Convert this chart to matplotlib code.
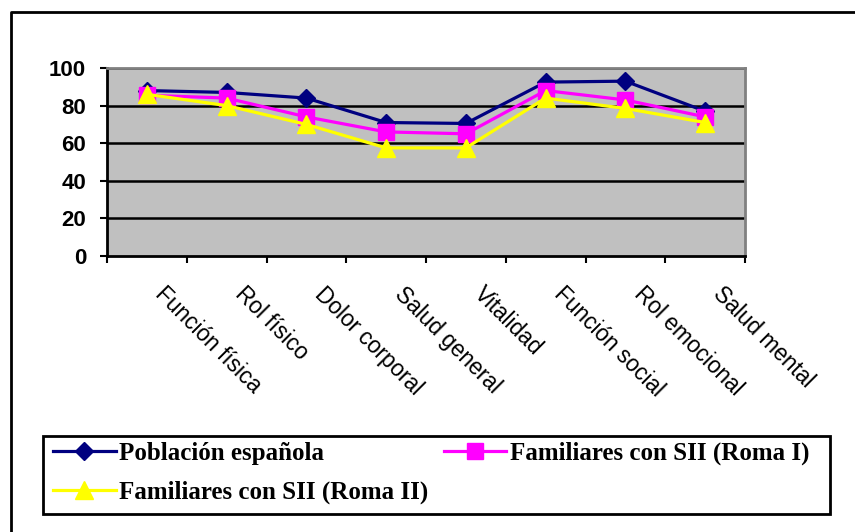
import numpy as np
import matplotlib
matplotlib.use("Agg")
import matplotlib.pyplot as plt
from matplotlib.lines import Line2D
from matplotlib.patches import Rectangle
from matplotlib.transforms import ScaledTranslation

# dimensiones del SF-36
categorias = ["Función física", "Rol físico", "Dolor corporal", "Salud general",
              "Vitalidad", "Función social", "Rol emocional", "Salud mental"]
poblacion = [88, 87, 84, 71, 70.5, 92.5, 93, 77]
roma1 = [85.5, 84, 74, 66, 65, 88, 83, 74]
roma2 = [86, 80, 70, 57.5, 57.5, 84, 78.5, 71]
yticks = [0, 20, 40, 60, 80, 100]

fig = plt.figure(figsize=(8.55, 5.32), dpi=100)
ax = fig.add_axes([107/855, 1-256/532, (745-107)/855, (256-68)/532])
ax.set_facecolor("#C0C0C0")

x = np.arange(len(categorias)) + 0.5
l1, = ax.plot(x, poblacion, color="#000080", lw=2.3, marker="D", ms=9.5, zorder=5)
l2, = ax.plot(x, roma1, color="#FF00FF", lw=2.3, marker="s", ms=11, zorder=5)
l3, = ax.plot(x, roma2, color="#FFFF00", lw=2.3, marker="^", ms=12.5, zorder=5)

ax.set_xlim(0, len(categorias))
ax.set_ylim(0, 100)
ax.set_yticks(yticks)
ax.set_yticklabels([str(v) for v in yticks], fontsize=16, fontweight="bold",
                   family="Liberation Sans")
for v in yticks[1:]:
    ax.axhline(v, color="black", lw=1.8, zorder=1)

ax.set_xticks(np.arange(len(categorias) + 1))
ax.set_xticklabels([])
ax.set_xticks(x, minor=True)
ax.set_xticklabels(categorias, minor=True, rotation=-45, ha="left", va="top",
                   rotation_mode="anchor", fontsize=16.3, family="Liberation Sans")
ax.tick_params(axis="x", which="minor", length=0, pad=19)
ax.tick_params(axis="both", which="major", direction="out", length=5, width=1.5,
               colors="black")
ax.tick_params(axis="y", pad=10)
# mover etiquetas un poco a la derecha, como en Excel
for t in ax.get_xticklabels(minor=True):
    t.set_transform(t.get_transform() + ScaledTranslation(20/100, 0, fig.dpi_scale_trans))

ax.spines["left"].set_linewidth(2)
ax.spines["bottom"].set_linewidth(2)
ax.spines["top"].set_color("#808080")
ax.spines["right"].set_color("#808080")
ax.spines["top"].set_linewidth(2)
ax.spines["right"].set_linewidth(2)

leg = fig.legend([l1, l3, l2],
                 ["Población española", "Familiares con SII (Roma II)",
                  "Familiares con SII (Roma I)"],
                 ncol=2, loc="upper left",
                 bbox_to_anchor=(53/855, 1-442/532),
                 frameon=False,
                 prop={"family": "Liberation Serif", "weight": "bold", "size": 18},
                 handlelength=2.5, handletextpad=0.15, borderaxespad=0,
                 labelspacing=0.62, borderpad=0, columnspacing=0.6)
fig.add_artist(Rectangle((43/855, 1-514/532), (830-43)/855, (514-436)/532,
                         transform=fig.transFigure, fill=False,
                         edgecolor="black", lw=2))

# borde exterior del gráfico
fig.add_artist(Line2D([11/855, 11/855, 1], [0, 1-12/532, 1-12/532],
                      color="black", lw=2, transform=fig.transFigure))

fig.savefig("out.png", dpi=100)
